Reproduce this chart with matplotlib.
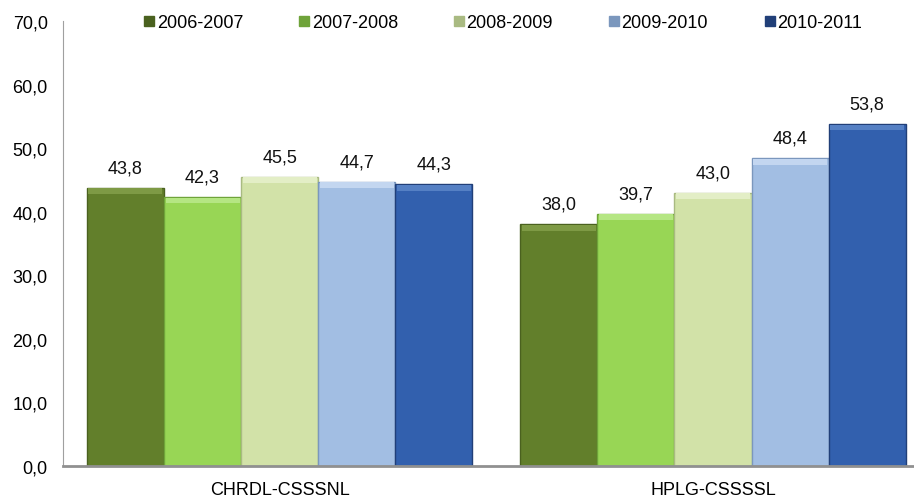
import numpy as np
import matplotlib
matplotlib.use("Agg")
from matplotlib import pyplot as plt

categories = ["CHRDL-CSSSNL", "HPLG-CSSSSL"]
seasons = ["2006-2007", "2007-2008", "2008-2009", "2009-2010", "2010-2011"]
values = [
    [43.8, 38.0],
    [42.3, 39.7],
    [45.5, 43.0],
    [44.7, 48.4],
    [44.3, 53.8],
]
colors = ["#627F2B", "#98D655", "#D2E2A8", "#A2BEE3", "#3260AE"]
edges = ["#4A611F", "#6FA33A", "#A9BA82", "#7B97BD", "#213F78"]
tops = ["#7E9A45", "#B5E683", "#E3EEC6", "#C3D6F0", "#5580C4"]
ticks = np.arange(0, 71, 10)

plt.rcParams["font.family"] = ["Liberation Sans", "DejaVu Sans"]
fs = 13

fig = plt.figure(figsize=(9.14, 5.02), dpi=100)
ax = fig.add_axes([63 / 914, 35 / 502, 851 / 914, 445 / 502])

x = np.arange(len(categories))
w = 0.178
handles = []
for i, (name, vals) in enumerate(zip(seasons, values)):
    pos = x + (i - 2) * w
    ax.bar(pos, vals, w, color=colors[i], edgecolor=edges[i],
           linewidth=1.0, label=name, zorder=2)
    # light top bevel
    ax.bar(pos, 0.9, w * 0.96, bottom=np.array(vals) - 1.0,
           color=tops[i], linewidth=0, zorder=3)
    for p, v in zip(pos, vals):
        ax.text(p, v + 1.8, f"{v:.1f}".replace(".", ","), ha="center",
                va="bottom", fontsize=fs, color="#111111")
    handles.append(plt.Line2D([], [], marker="s", linestyle="none",
                              markersize=7.5, markerfacecolor=edges[i],
                              markeredgecolor=edges[i]))

ax.set_xlim(-0.5, 1.464)
ax.set_ylim(0, 70)
ax.set_yticks(ticks)
ax.set_yticklabels([f"{t:.1f}".replace(".", ",") for t in ticks],
                   fontsize=fs)
ax.set_xticks(x)
ax.set_xticklabels(categories, fontsize=fs)
ax.tick_params(axis="y", length=0, pad=11)
ax.tick_params(axis="x", length=0, pad=11)
for s in ["top", "right"]:
    ax.spines[s].set_visible(False)
ax.spines["left"].set_color("#A0A0A0")
ax.spines["bottom"].set_color("#909090")
ax.spines["bottom"].set_linewidth(2)

fig.legend(handles, seasons, loc="center left",
           bbox_to_anchor=(135 / 914, 1 - 24 / 502),
           ncol=5, frameon=False, fontsize=fs, handlelength=0.6,
           handletextpad=0.1, columnspacing=3.1, borderpad=0)

fig.savefig("out.png", dpi=100)
